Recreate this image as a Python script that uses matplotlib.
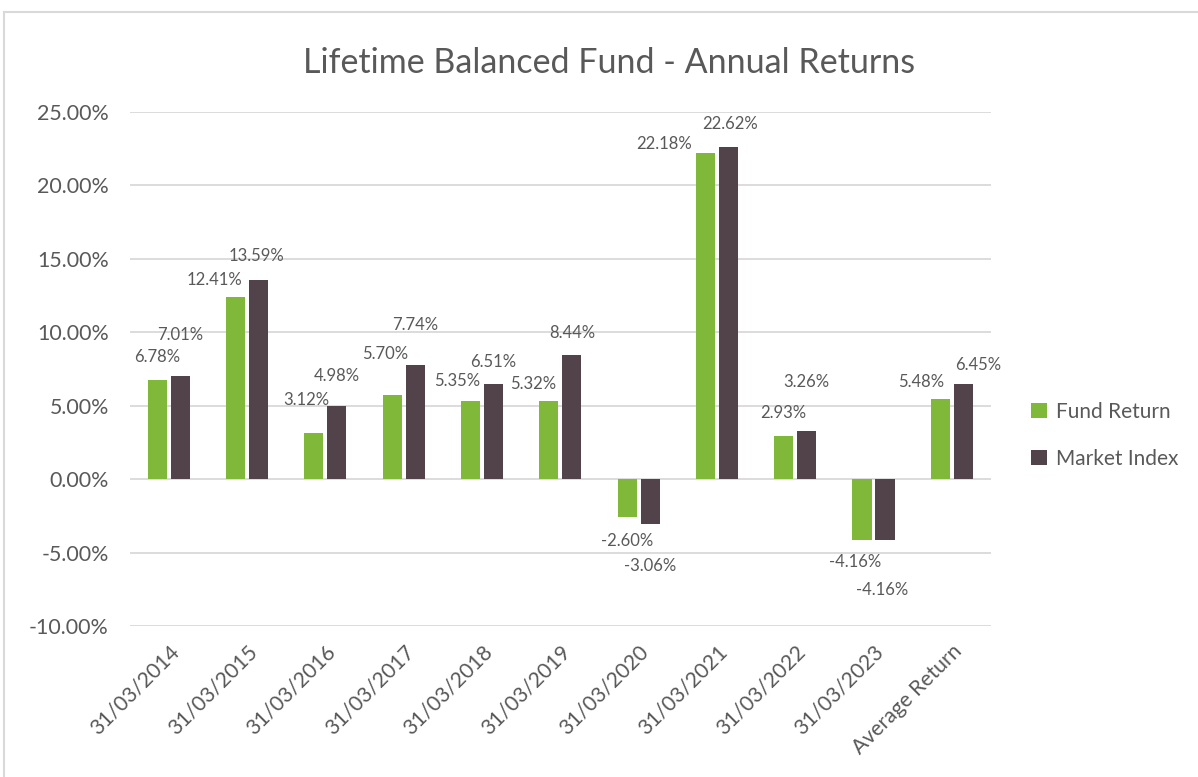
import matplotlib
matplotlib.use("Agg")
import matplotlib.pyplot as plt
import numpy as np
from matplotlib.lines import Line2D

categories = ["31/03/2014", "31/03/2015", "31/03/2016", "31/03/2017", "31/03/2018",
              "31/03/2019", "31/03/2020", "31/03/2021", "31/03/2022", "31/03/2023",
              "Average Return"]
fund_return = [6.78, 12.41, 3.12, 5.70, 5.35, 5.32, -2.60, 22.18, 2.93, -4.16, 5.48]
market_index = [7.01, 13.59, 4.98, 7.74, 6.51, 8.44, -3.06, 22.62, 3.26, -4.16, 6.45]
y_ticks = [-10, -5, 0, 5, 10, 15, 20, 25]

# label offsets in pixels (dx, dy from bar end), style only
fund_offsets = [(0, 23), (-21, 17), (-8, 33), (-7, 41), (-13, 20), (-16, 17),
                (0, -24), (-41, 9), (0, 23), (-7, -22), (-19, 17)]
market_offsets = [(0, 41), (-2, 24), (0, 30), (0, 40), (0, 22), (0, 22),
                  (0, -42), (2, 23), (0, 49), (-3, -50), (15, 19)]

GREEN = "#80B83A"
DARK = "#52434A"
TEXT = "#595959"
GRID = "#D9D9D9"
FONT = "Lato"

fig = plt.figure(figsize=(11.98, 7.77), dpi=100)
ax = fig.add_axes([0.1082, 0.1943, 0.7190, 0.6616])

x = np.arange(len(categories))
w = 0.245
off = 0.147
b1 = ax.bar(x - off, fund_return, width=w, color=GREEN, label="Fund Return", zorder=3)
b2 = ax.bar(x + off, market_index, width=w, color=DARK, label="Market Index", zorder=3)

for bars, vals, offs in ((b1, fund_return, fund_offsets), (b2, market_index, market_offsets)):
    for rect, v, (dx, dy) in zip(bars, vals, offs):
        ax.annotate(f"{v:.2f}%", xy=(rect.get_x() + rect.get_width() / 2, v),
                    xytext=(dx, dy), textcoords="offset pixels",
                    ha="center", va="center", fontsize=12, color=TEXT,
                    family=FONT, zorder=5)

ax.set_xlim(-0.5, len(categories) - 0.5)
ax.set_ylim(-10, 25)
ax.set_yticks(y_ticks)
ax.set_yticklabels([f"{t:.2f}%" for t in y_ticks], family=FONT, fontsize=15.4, color=TEXT)
ax.yaxis.grid(True, color=GRID, linewidth=1.3, zorder=0)
ax.set_axisbelow(True)
ax.tick_params(axis="y", length=0, pad=15)
ax.tick_params(axis="x", length=0, pad=11)
ax.set_xticks(x)
ax.set_xticklabels(categories, rotation=45, ha="right", va="top", rotation_mode="anchor",
                   family=FONT, fontsize=15.2, color=TEXT)
for s in ax.spines.values():
    s.set_visible(False)

ax.set_title("Lifetime Balanced Fund - Annual Returns", family=FONT, fontsize=24.5,
             color=TEXT, pad=28, x=0.557)

leg = ax.legend(loc="center left", bbox_to_anchor=(0.845, 0.44), bbox_transform=fig.transFigure,
                frameon=False, handlelength=0.75, handleheight=0.75, handletextpad=0.45,
                labelspacing=1.3, prop={"family": FONT, "size": 15})
for t in leg.get_texts():
    t.set_color(TEXT)

# chart border (top and left visible)
fig.add_artist(Line2D([4 / 1198, 1.0], [1 - 12 / 777, 1 - 12 / 777], transform=fig.transFigure,
                      color=GRID, linewidth=1.5))
fig.add_artist(Line2D([4 / 1198, 4 / 1198], [0, 1 - 12 / 777], transform=fig.transFigure,
                      color=GRID, linewidth=1.5))

fig.savefig("out.png", dpi=100)
